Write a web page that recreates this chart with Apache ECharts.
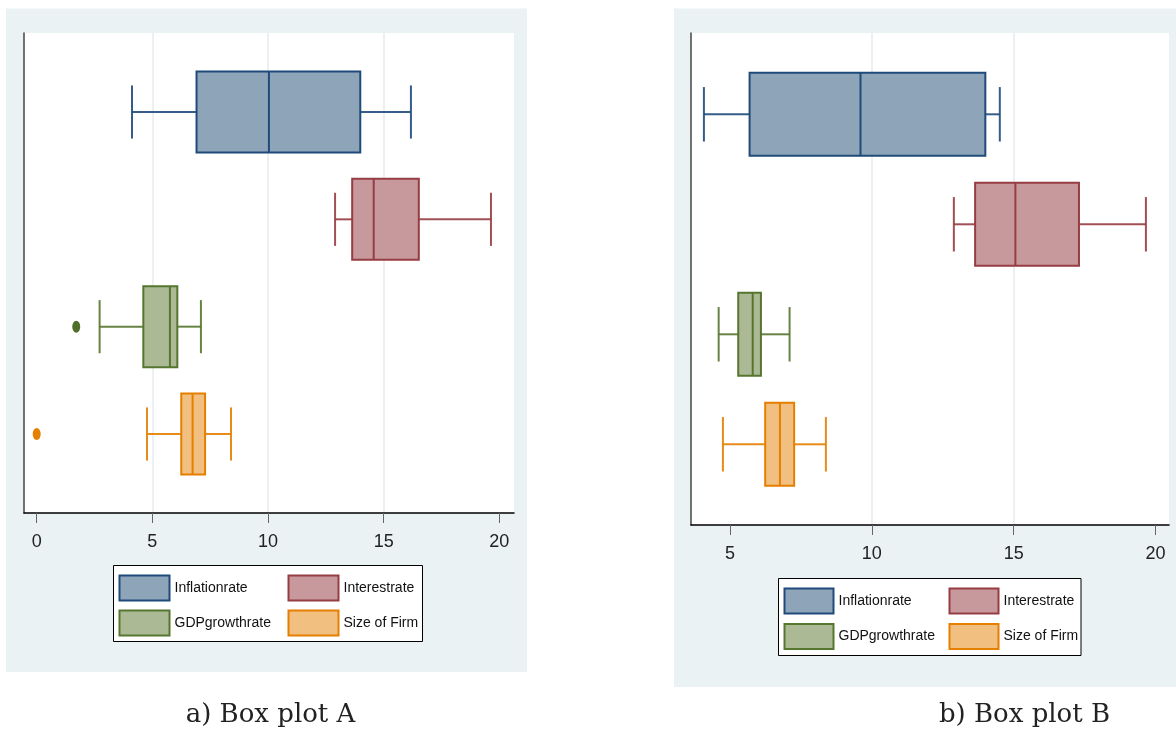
<!DOCTYPE html>
<html><head><meta charset="utf-8">
<script src="https://cdn.jsdelivr.net/npm/echarts@6/dist/echarts.min.js"></script>
<style>html,body{margin:0;padding:0;background:#fff}#c{width:1176px;height:731px}</style>
</head><body><div id="c"></div><script>
// ---- data ----
const categories = ['Inflationrate', 'Interestrate', 'GDPgrowthrate', 'Size of Firm'];
// each: [lower whisker, Q1, median, Q3, upper whisker]
const plotA_inflation = [4.12, 6.91, 10.04, 13.99, 16.18];
const plotA_interest  = [12.90, 13.64, 14.57, 16.52, 19.64];
const plotA_gdp       = [2.72, 4.61, 5.76, 6.08, 7.10];
const plotA_size      = [4.77, 6.25, 6.74, 7.28, 8.40];
const plotA_outliers_gdp  = [1.71];
const plotA_outliers_size = [0];
const plotB_inflation = [4.08, 5.69, 9.60, 14.00, 14.51];
const plotB_interest  = [12.89, 13.64, 15.06, 17.30, 19.66];
const plotB_gdp       = [4.60, 5.29, 5.80, 6.09, 7.10];
const plotB_size      = [4.75, 6.24, 6.76, 7.26, 8.38];
const ticksA = [0, 5, 10, 15, 20];
const ticksB = [5, 10, 15, 20];
const captions = ['a) Box plot A', 'b) Box plot B'];

// ---- styles ----
const styles = [
  {fill: '#8EA4B8', stroke: '#1F4B7A'},
  {fill: '#C8999C', stroke: '#963C43'},
  {fill: '#ABBA94', stroke: '#56762F'},
  {fill: '#F1BF80', stroke: '#E57F00'}
];
const outlierColors = ['#4F6E2A', '#E57F00'];
const tickFont = 'Liberation Sans, Arimo, Arial, sans-serif';
const BOX_FRAC = 0.755, CAP_FRAC = 0.495;

function renderBox(st) {
  return function (params, api) {
    const cat = api.value(0);
    const band = api.size([0, 1])[1];
    const y = api.coord([api.value(3), cat])[1];
    const xs = [1, 2, 3, 4, 5].map(d => api.coord([api.value(d), cat])[0]);
    const bh = band * BOX_FRAC, ch = band * CAP_FRAC;
    const wl = {stroke: st.stroke, lineWidth: 2, opacity: 0.9};
    return {type: 'group', children: [
      {type: 'line', shape: {x1: xs[0], y1: y, x2: xs[1], y2: y}, style: wl},
      {type: 'line', shape: {x1: xs[3], y1: y, x2: xs[4], y2: y}, style: wl},
      {type: 'line', shape: {x1: xs[0], y1: y - ch / 2, x2: xs[0], y2: y + ch / 2}, style: wl},
      {type: 'line', shape: {x1: xs[4], y1: y - ch / 2, x2: xs[4], y2: y + ch / 2}, style: wl},
      {type: 'rect', shape: {x: xs[1], y: y - bh / 2, width: xs[3] - xs[1], height: bh},
        style: {fill: st.fill, stroke: st.stroke, lineWidth: 2}},
      {type: 'line', shape: {x1: xs[2], y1: y - bh / 2, x2: xs[2], y2: y + bh / 2},
        style: {stroke: st.stroke, lineWidth: 2}}
    ]};
  };
}

function boxSeries(idx, values, axisIdx) {
  return {
    name: categories[idx], type: 'custom', xAxisIndex: axisIdx, yAxisIndex: axisIdx,
    encode: {x: [1, 2, 3, 4, 5], y: 0},
    data: [[categories[idx]].concat(values)],
    renderItem: renderBox(styles[idx]),
    silent: true
  };
}
function outlierSeries(idx, vals, axisIdx, color) {
  return {
    name: categories[idx] + ' outliers', type: 'scatter', xAxisIndex: axisIdx, yAxisIndex: axisIdx,
    data: vals.map(v => [v, categories[idx]]),
    symbol: 'circle', symbolSize: [8, 12],
    itemStyle: {color: color, opacity: 1}, silent: true
  };
}

function frameX(min, max, ticks) {
  return {
    type: 'value', min: min, max: max, splitNumber: 4,
    axisLine: {show: true, onZero: false, lineStyle: {color: '#000', width: 1.5}},
    axisTick: {show: true, length: 10, customValues: ticks, lineStyle: {color: '#666', width: 1}},
    axisLabel: {customValues: ticks, margin: 20, fontFamily: tickFont, fontSize: 18, color: '#222'},
    splitLine: {show: true, showMinLine: false, showMaxLine: false, lineStyle: {color: '#E4ECEE', width: 1.5}}
  };
}
function innerX(min, max) {
  return {type: 'value', min: min, max: max, show: false, splitLine: {show: false}};
}
const frameY = {
  type: 'value', min: 0, max: 1,
  axisLine: {show: true, onZero: false, lineStyle: {color: '#444', width: 1.5}},
  axisTick: {show: false}, axisLabel: {show: false}, splitLine: {show: false}
};
const innerY = {type: 'category', data: categories, inverse: true, show: false};

// one legend per column so the two columns line up
function legendCol(left, top, iw, gap, idxs) {
  return {
    left: left, top: top, orient: 'vertical', padding: 0,
    itemWidth: iw, itemHeight: 25, itemGap: gap, selectedMode: false,
    textStyle: {fontFamily: tickFont, fontSize: 14, color: '#111'},
    data: idxs.map(i => ({
      name: categories[i], icon: 'rect',
      itemStyle: {color: styles[i].fill, borderColor: styles[i].stroke, borderWidth: 2}
    }))
  };
}

const chart = echarts.init(document.getElementById('c'), null, {renderer: 'canvas'});
chart.setOption({
  animation: false,
  backgroundColor: '#fff',
  graphic: [
    {type: 'rect', z: -100, shape: {x: 6, y: 8.5, width: 521, height: 663.5}, style: {fill: '#EAF2F3'}, silent: true},
    {type: 'rect', z: -100, shape: {x: 674, y: 8.5, width: 502, height: 678.5}, style: {fill: '#EAF2F3'}, silent: true},
    {type: 'rect', z: -50, shape: {x: 113.5, y: 565.5, width: 309, height: 76}, style: {fill: '#fff', stroke: '#000', lineWidth: 1}, silent: true},
    {type: 'rect', z: -50, shape: {x: 778.5, y: 578.5, width: 302.5, height: 77}, style: {fill: '#fff', stroke: '#000', lineWidth: 1}, silent: true}
  ],
  title: [
    {text: captions[0], left: 270.5, top: 702, padding: 0, textAlign: 'center',
      textStyle: {fontFamily: 'DejaVu Serif', fontSize: 26, fontWeight: 'normal', color: '#222'}},
    {text: captions[1], left: 1024.5, top: 702, padding: 0, textAlign: 'center',
      textStyle: {fontFamily: 'DejaVu Serif', fontSize: 26, fontWeight: 'normal', color: '#222'}}
  ],
  legend: [
    legendCol(118.5, 574.5, 50, 8, [0, 2]),
    legendCol(287.5, 574.5, 50, 8, [1, 3]),
    legendCol(783.5, 587.5, 49, 8.5, [0, 2]),
    legendCol(948.5, 587.5, 49, 8.5, [1, 3])
  ],
  grid: [
    {left: 24, top: 33, width: 490, height: 480, show: true, backgroundColor: '#fff', borderWidth: 0},
    {left: 24, top: 58.33, width: 490, height: 429.33, show: false},
    {left: 691, top: 33, width: 478, height: 492, show: true, backgroundColor: '#fff', borderWidth: 0},
    {left: 691, top: 59.3, width: 478, height: 440, show: false}
  ],
  xAxis: [
    Object.assign(frameX(-0.549, 20.636, ticksA), {gridIndex: 0}),
    Object.assign(innerX(-0.549, 20.636), {gridIndex: 1}),
    Object.assign(frameX(3.625, 20.474, ticksB), {gridIndex: 2}),
    Object.assign(innerX(3.625, 20.474), {gridIndex: 3})
  ],
  yAxis: [
    Object.assign({}, frameY, {gridIndex: 0}),
    Object.assign({}, innerY, {gridIndex: 1}),
    Object.assign({}, frameY, {gridIndex: 2}),
    Object.assign({}, innerY, {gridIndex: 3})
  ],
  series: [
    boxSeries(0, plotA_inflation, 1),
    boxSeries(1, plotA_interest, 1),
    boxSeries(2, plotA_gdp, 1),
    boxSeries(3, plotA_size, 1),
    outlierSeries(2, plotA_outliers_gdp, 1, outlierColors[0]),
    outlierSeries(3, plotA_outliers_size, 1, outlierColors[1]),
    boxSeries(0, plotB_inflation, 3),
    boxSeries(1, plotB_interest, 3),
    boxSeries(2, plotB_gdp, 3),
    boxSeries(3, plotB_size, 3)
  ]
});
</script></body></html>
